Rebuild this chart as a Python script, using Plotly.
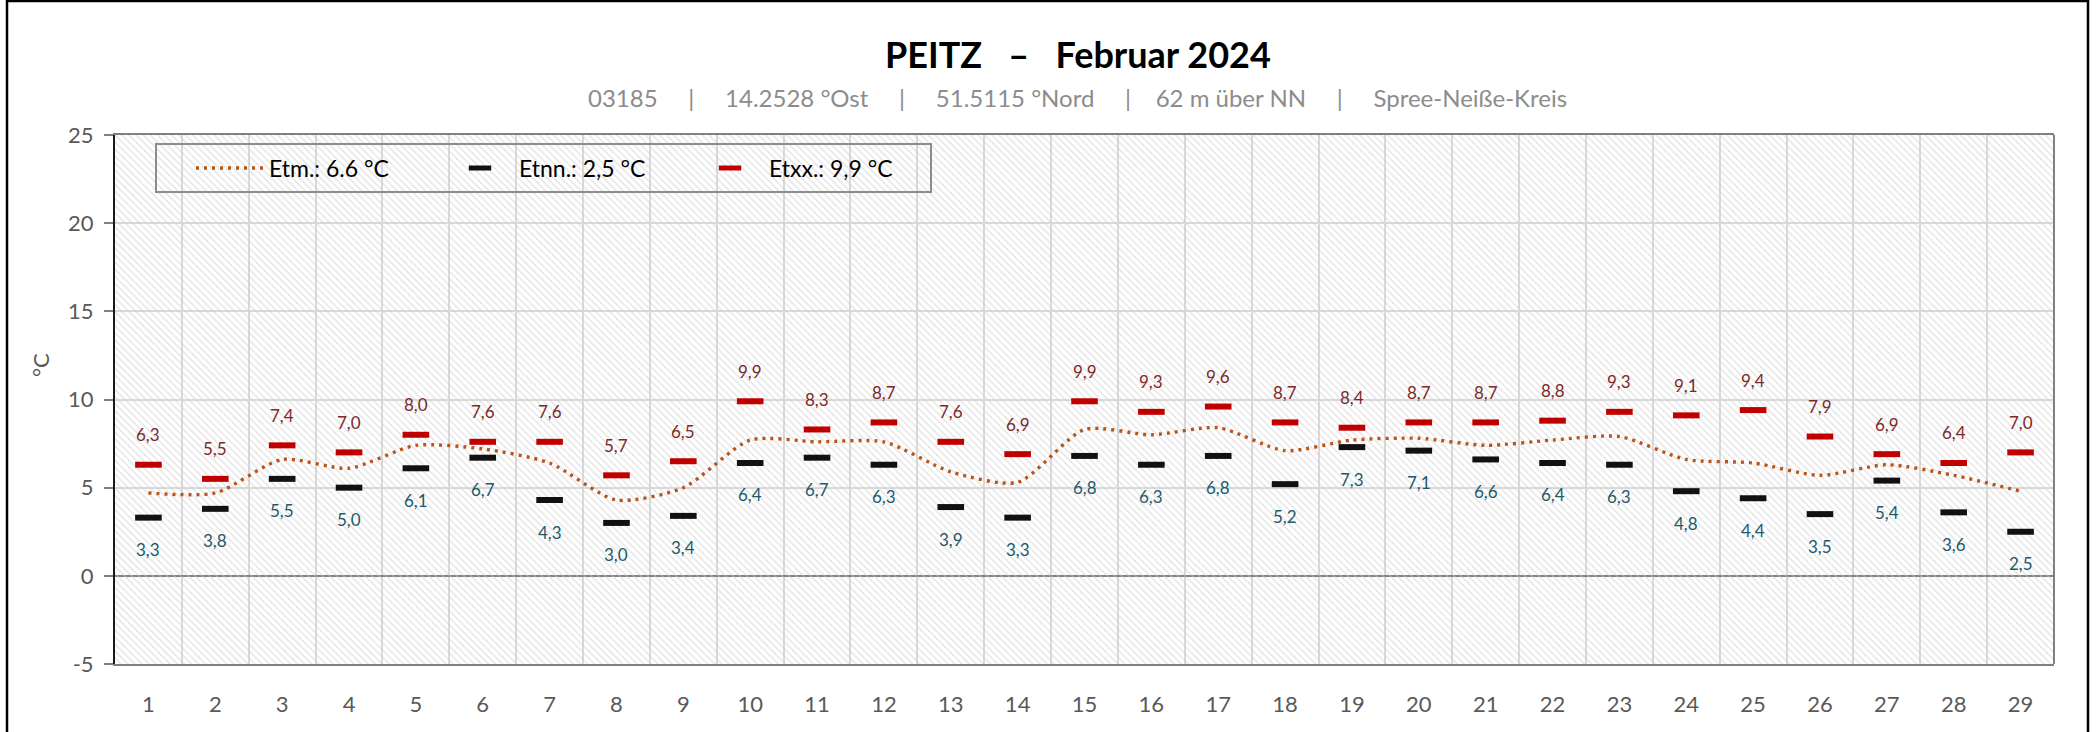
import plotly.graph_objects as go

# ---------------- data ----------------
days = list(range(1, 30))
etm = [4.7, 4.7, 6.6, 6.1, 7.4, 7.2, 6.4, 4.3, 5.0, 7.7, 7.6, 7.6, 5.9, 5.3, 8.3,
       8.0, 8.4, 7.1, 7.7, 7.8, 7.4, 7.7, 7.9, 6.6, 6.4, 5.7, 6.3, 5.7, 4.8]
etnn = [3.3, 3.8, 5.5, 5.0, 6.1, 6.7, 4.3, 3.0, 3.4, 6.4, 6.7, 6.3, 3.9, 3.3, 6.8,
        6.3, 6.8, 5.2, 7.3, 7.1, 6.6, 6.4, 6.3, 4.8, 4.4, 3.5, 5.4, 3.6, 2.5]
etxx = [6.3, 5.5, 7.4, 7.0, 8.0, 7.6, 7.6, 5.7, 6.5, 9.9, 8.3, 8.7, 7.6, 6.9, 9.9,
        9.3, 9.6, 8.7, 8.4, 8.7, 8.7, 8.8, 9.3, 9.1, 9.4, 7.9, 6.9, 6.4, 7.0]
y_ticks = [-5, 0, 5, 10, 15, 20, 25]
y_tick_labels = ["-5", "0", "5", "10", "15", "20", "25"]

title_text = "PEITZ &nbsp; – &nbsp; Februar 2024"
SEP = "&nbsp;&nbsp;&nbsp;&nbsp;&nbsp;|&nbsp;&nbsp;&nbsp;&nbsp;&nbsp;"
subtitle_text = ("03185" + SEP + "14.2528 °Ost" + SEP + "51.5115 °Nord"
                 + "&nbsp;&nbsp;&nbsp;&nbsp;&nbsp;|&nbsp;&nbsp;&nbsp;&nbsp;" + "62 m über NN" + SEP
                 + "Spree-Neiße-Kreis")

# ---------------- layout constants ----------------
W, H = 2097, 732
ML, MR, MT, MB = 115, 43, 135, 68
PW, PH = W - ML - MR, H - MT - MB
FONT = "Lato"
Y_MIN, Y_MAX = y_ticks[0], y_ticks[-1]
X_MIN, X_MAX = days[0] - 0.5, days[-1] + 0.5


def px_x(px):
    return (px - ML) / PW


def px_y(py):
    return (H - MB - py) / PH


def de(v):
    return f"{v:.1f}".replace(".", ",")


mean_all = sum(etm) / len(etm)
min_all = min(etnn)
max_all = max(etxx)

fig = go.Figure()

# hatched background of plot area
fig.add_trace(go.Scatter(
    x=[X_MIN, X_MAX, X_MAX, X_MIN, X_MIN],
    y=[Y_MIN, Y_MIN, Y_MAX, Y_MAX, Y_MIN],
    mode="lines", fill="toself", line=dict(width=0),
    fillcolor="rgba(0,0,0,0)",
    fillpattern=dict(shape="\\", fgcolor="#cdcdcd", bgcolor="rgba(0,0,0,0)",
                     size=5, solidity=0.3),
    hoverinfo="skip", showlegend=False,
))

fig.add_trace(go.Scatter(
    x=days, y=etm, mode="lines", name=f"Etm.: {mean_all:.1f} °C",
    line=dict(color="#b9541a", width=3.4, dash="3px,5px", shape="spline", smoothing=0.7),
))
fig.add_trace(go.Scatter(
    x=days, y=etnn, mode="markers", name=f"Etnn.: {de(min_all)} °C",
    marker=dict(symbol="line-ew", size=19, line=dict(color="#111111", width=6)),
))
fig.add_trace(go.Scatter(
    x=days, y=etxx, mode="markers", name=f"Etxx.: {de(max_all)} °C",
    marker=dict(symbol="line-ew", size=19, line=dict(color="#c00000", width=6)),
))

annotations = []
for d, v in zip(days, etxx):
    annotations.append(dict(x=d, y=v, text=de(v), showarrow=False, yshift=30,
                            font=dict(family=FONT, size=17, color="#7b2a2a")))
for d, v in zip(days, etnn):
    annotations.append(dict(x=d, y=v, text=de(v), showarrow=False, yshift=-32,
                            font=dict(family=FONT, size=17, color="#215a6b")))

annotations.append(dict(xref="paper", yref="paper", x=px_x(1078), y=px_y(54),
                        xanchor="center", yanchor="middle",
                        text=f"<b>{title_text}</b>", showarrow=False,
                        font=dict(family=FONT, size=36, color="#000000")))
annotations.append(dict(xref="paper", yref="paper", x=px_x(1077), y=px_y(97),
                        xanchor="center", yanchor="middle",
                        text=subtitle_text, showarrow=False,
                        font=dict(family=FONT, size=24, color="#8c8c8c")))
annotations.append(dict(xref="paper", yref="paper", x=px_x(40), y=px_y(365),
                        xanchor="center", yanchor="middle",
                        text="°C", textangle=-90, showarrow=False,
                        font=dict(family=FONT, size=22, color="#595959")))

shapes = [
    # right border of plot area
    dict(type="line", xref="paper", yref="paper", x0=1, x1=1, y0=0, y1=1,
         line=dict(color="#808080", width=2), layer="above"),
    # legend frame
    dict(type="rect", xref="paper", yref="paper",
         x0=px_x(156), x1=px_x(931), y0=px_y(192), y1=px_y(144),
         line=dict(color="#8c8c8c", width=2), layer="above"),
    # outer frame of the chart
    dict(type="rect", xref="paper", yref="paper",
         x0=px_x(7), x1=px_x(2088), y0=px_y(745), y1=px_y(1),
         line=dict(color="#000000", width=2.5), layer="above"),
]

fig.update_layout(
    width=W, height=H,
    margin=dict(l=ML, r=MR, t=MT, b=MB),
    paper_bgcolor="white", plot_bgcolor="white",
    font=dict(family=FONT, color="#595959"),
    annotations=annotations,
    shapes=shapes,
    showlegend=True,
    legend=dict(
        orientation="h", x=px_x(191), y=px_y(168), xanchor="left", yanchor="middle",
        bgcolor="rgba(0,0,0,0)", borderwidth=0,
        font=dict(family=FONT, size=23, color="#000000"),
        entrywidth=167, entrywidthmode="pixels", itemwidth=68,
        traceorder="normal",
    ),
    xaxis=dict(
        range=[X_MIN, X_MAX], tickmode="array", tickvals=days,
        ticktext=[str(d) for d in days], showgrid=False, zeroline=False,
        showline=True, linecolor="#808080", linewidth=2, mirror=True,
        ticks="", ticklabelstandoff=20,
        tickfont=dict(family=FONT, size=22, color="#595959"),
        minor=dict(tick0=0.5, dtick=1, showgrid=True, gridcolor="#d9d9d9",
                   gridwidth=1.5, ticks=""),
        fixedrange=True,
    ),
    yaxis=dict(
        range=[Y_MIN, Y_MAX], tickmode="array", tickvals=y_ticks,
        ticktext=y_tick_labels,
        showgrid=True, gridcolor="#d9d9d9", gridwidth=2,
        zeroline=True, zerolinecolor="#808080", zerolinewidth=2,
        showline=True, linecolor="#1a1a1a", linewidth=2,
        ticks="outside", ticklen=9, tickcolor="#808080", tickwidth=1.5,
        ticklabelstandoff=6,
        tickfont=dict(family=FONT, size=22, color="#595959"),
        fixedrange=True,
    ),
)

fig.write_html("out.html", config={"displayModeBar": False},
               post_script="document.body.style.margin='0';document.body.style.overflow='hidden';")
